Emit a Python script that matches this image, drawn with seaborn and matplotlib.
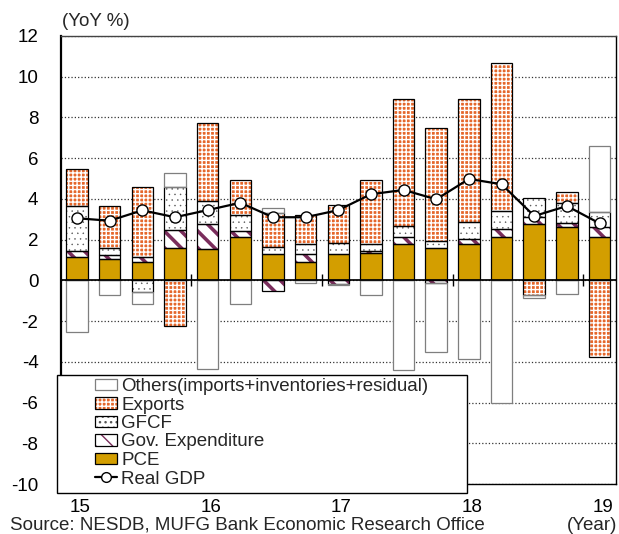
import numpy as np
import pandas as pd
import seaborn as sns
import matplotlib.pyplot as plt
from matplotlib.patches import Patch, Rectangle
from matplotlib.lines import Line2D

sns.set_theme(style="white")
plt.rcParams["font.family"] = ["Liberation Sans", "DejaVu Sans"]
plt.rcParams["axes.unicode_minus"] = False

# quarterly contributions to real GDP growth (YoY %), 2015Q1 - 2019Q1
quarters = ["15Q1", "15Q2", "15Q3", "15Q4", "16Q1", "16Q2", "16Q3", "16Q4",
            "17Q1", "17Q2", "17Q3", "17Q4", "18Q1", "18Q2", "18Q3", "18Q4", "19Q1"]
pce = [1.16, 1.05, 0.90, 1.60, 1.52, 2.14, 1.29, 0.88, 1.31, 1.33, 1.80, 1.57, 1.80, 2.14, 2.77, 2.60, 2.14]
gov = [0.30, 0.19, 0.23, 0.87, 1.23, 0.28, -0.51, 0.40, -0.20, 0.11, 0.34, -0.12, 0.25, 0.37, 0.33, 0.20, 0.46]
gfcf = [2.19, 0.33, -0.59, 2.10, 1.15, 0.77, 0.33, 0.52, 0.51, 0.34, 0.53, 0.36, 0.80, 0.88, 0.93, 1.01, 0.77]
exports = [1.83, 2.06, 3.44, -2.23, 3.81, 1.72, 1.70, 1.39, 1.88, 3.15, 6.22, 5.54, 6.04, 7.29, -0.72, 0.51, -3.78]
others = [-2.52, -0.72, -0.59, 0.69, -4.36, -1.18, 0.22, -0.15, -0.05, -0.72, -4.41, -3.40, -3.88, -6.01, -0.16, -0.67, 3.23]
gdp = [3.05, 2.93, 3.44, 3.10, 3.45, 3.81, 3.10, 3.10, 3.45, 4.23, 4.44, 3.98, 4.98, 4.72, 3.16, 3.65, 2.80]
year_labels = ["15", "16", "17", "18", "19"]

df = pd.DataFrame({"quarter": quarters, "PCE": pce, "Gov": gov, "GFCF": gfcf,
                   "Exports": exports, "Others": others, "GDP": gdp})
df["pos"] = np.arange(len(df))

# stacking order from zero outward, with look of each component
styles = [
    ("PCE", "PCE", dict(face="#D39E00", hatch=None, hcol="none", edge="black", hlw=0)),
    ("Gov", "Gov. Expenditure", dict(face="white", hatch="\\\\", hcol="#7A2D5C", edge="black", hlw=2.6)),
    ("GFCF", "GFCF", dict(face="white", hatch="...", hcol="#555555", edge="black", hlw=0.3)),
    ("Exports", "Exports", dict(face="#E5672B", hatch="++++", hcol="white", edge="black", hlw=1.0)),
    ("Others", "Others(imports+inventories+residual)", dict(face="white", hatch=None, hcol="none", edge="#7F7F7F", hlw=0)),
]

fig, ax = plt.subplots(figsize=(6.19, 5.34), dpi=100)
fig.subplots_adjust(left=0.098, right=0.995, top=0.9326, bottom=0.0936)

width = 0.66
pos_base = np.zeros(len(df))
neg_base = np.zeros(len(df))
handles = {}
for col, label, st in styles:
    v = df[col].to_numpy()
    bottom = np.where(v >= 0, pos_base, neg_base)
    fill = ax.bar(df["pos"], v, width, bottom=bottom, color=st["face"], edgecolor=st["hcol"],
                  hatch=st["hatch"], linewidth=0, zorder=2)
    for p in fill:
        if hasattr(p, "set_hatch_linewidth"):
            p.set_hatch_linewidth(st["hlw"])
    ax.bar(df["pos"], v, width, bottom=bottom, facecolor="none", edgecolor=st["edge"],
           linewidth=0.9, zorder=2.1)
    pos_base += np.clip(v, 0, None)
    neg_base += np.clip(v, None, 0)

    hp = Patch(facecolor=st["face"], edgecolor=st["hcol"], hatch=st["hatch"], linewidth=0)
    if hasattr(hp, "set_hatch_linewidth"):
        hp.set_hatch_linewidth(st["hlw"])
    op = Patch(facecolor="none", edgecolor=st["edge"], linewidth=0.9)
    handles[label] = (hp, op)

sns.lineplot(data=df, x="pos", y="GDP", ax=ax, color="black", linewidth=1.6, marker="o",
             markersize=8, markerfacecolor="white", markeredgecolor="black",
             markeredgewidth=1, zorder=5)

ymin, ymax = -10, 12
ax.set_xlim(-0.5, len(df) - 0.5)
ax.set_ylim(ymin, ymax)
ax.set_yticks(np.arange(ymin, ymax + 1, 2))
ax.yaxis.grid(True, linestyle=":", color="#333333", linewidth=0.9)
ax.set_axisbelow(True)
ax.tick_params(axis="y", length=0, pad=16, labelsize=13.5, colors="black")

q1 = df["pos"].to_numpy()[::4]
ax.set_xticks(q1 + 0.1)
ax.set_xticklabels(year_labels)
ax.tick_params(axis="x", length=0, pad=10.5, labelsize=13.5, colors="black")
ax.set_xlabel("")
ax.set_ylabel("")

for name, sp in ax.spines.items():
    sp.set_visible(True)
    sp.set_color("black")
    sp.set_linewidth(1.0)
ax.spines["left"].set_linewidth(1.6)
ax.spines["top"].set_color("#444444")

# zero line with year-boundary ticks
zero = ax.secondary_xaxis((0 - ymin) / (ymax - ymin))
zero.set_xticks(q1[1:] - 0.5)
zero.tick_params(direction="inout", length=8, width=1, color="black",
                 labeltop=False, labelbottom=False)
zero.spines["top"].set_color("black")
zero.spines["bottom"].set_color("black")
zero.set_zorder(4)

# legend box
ax.add_patch(Rectangle((57 / 619, 1 - 493 / 534), 410 / 619, 118 / 534,
                       transform=fig.transFigure, facecolor="white", edgecolor="black",
                       linewidth=1, zorder=6, clip_on=False))
order = ["Others(imports+inventories+residual)", "Exports", "GFCF", "Gov. Expenditure", "PCE"]
leg_handles = [handles[k] for k in order]
leg_handles.append(Line2D([], [], color="black", linewidth=1.6, marker="o", markersize=7,
                          markerfacecolor="white", markeredgecolor="black"))
leg = ax.legend(leg_handles, order + ["Real GDP"], loc="upper left",
                bbox_to_anchor=(95 / 619, 1 - 378 / 534), bbox_transform=fig.transFigure,
                frameon=False, fontsize=13.5, borderpad=0, borderaxespad=0,
                handlelength=1.2, handleheight=0.55, handletextpad=0.2, labelspacing=0.08)
leg.set_zorder(7)

fig.text(62 / 619, 1 - 21 / 534, "(YoY %)", fontsize=13.5, va="center", ha="left")
fig.text(592 / 619, 1 - 525 / 534, "(Year)", fontsize=13.5, va="center", ha="center")
fig.text(10 / 619, 1 - 525 / 534, "Source: NESDB, MUFG Bank Economic Research Office",
         fontsize=13.5, va="center", ha="left")

fig.savefig("out.png", dpi=100)
